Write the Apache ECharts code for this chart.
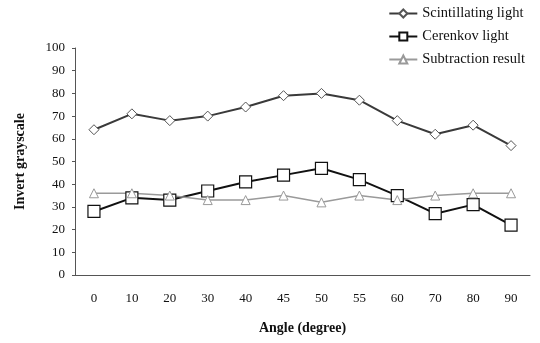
<!DOCTYPE html>
<html>
<head>
<meta charset="utf-8">
<script src="https://cdn.jsdelivr.net/npm/echarts@6/dist/echarts.min.js"></script>
<style>
  html, body { margin: 0; padding: 0; background: #fff; }
  #chart { width: 540px; height: 343px; }
</style>
</head>
<body>
<div id="chart"></div>
<script>
// angles on the x axis
const angles = ['0', '10', '20', '30', '40', '45', '50', '55', '60', '70', '80', '90'];
const scintillating = [64, 71, 68, 70, 74, 79, 80, 77, 68, 62, 66, 57];
const cerenkov = [28, 34, 33, 37, 41, 44, 47, 42, 35, 27, 31, 22];
const subtraction = [36, 36, 35, 33, 33, 35, 32, 35, 33, 35, 36, 36];

const font = '"Liberation Serif", "DejaVu Serif", serif';

let myChart = echarts.init(document.getElementById('chart'));
let option = {
  backgroundColor: '#fff',
  animation: false,
  textStyle: { fontFamily: font },
  legend: {
    orient: 'vertical',
    right: 10,
    top: 1,
    itemWidth: 28,
    itemHeight: 10,
    itemGap: 8,
    textStyle: { fontFamily: font, fontSize: 14.5, color: '#111' },
    data: ['Scintillating light', 'Cerenkov light', 'Subtraction result']
  },
  grid: { left: 75, right: 10, top: 48, bottom: 68 },
  xAxis: {
    type: 'category',
    data: angles,
    name: 'Angle (degree)',
    nameLocation: 'middle',
    nameGap: 46,
    nameTextStyle: { fontFamily: font, fontWeight: 'bold', fontSize: 14, color: '#111' },
    axisLine: { lineStyle: { color: '#555' } },
    axisTick: { show: false },
    axisLabel: { fontFamily: font, fontSize: 13, color: '#111', margin: 17 }
  },
  yAxis: {
    type: 'value',
    min: 0,
    max: 100,
    interval: 10,
    name: 'Invert grayscale',
    nameLocation: 'middle',
    nameGap: 48,
    nameTextStyle: { fontFamily: font, fontWeight: 'bold', fontSize: 14, color: '#111' },
    axisLine: { show: true, lineStyle: { color: '#555' } },
    axisTick: { show: true, length: 3, lineStyle: { color: '#555' } },
    splitLine: { show: false },
    axisLabel: { fontFamily: font, fontSize: 13, color: '#111', margin: 10 }
  },
  series: [
    {
      name: 'Scintillating light',
      type: 'line',
      data: scintillating,
      symbol: 'diamond',
      symbolSize: 10,
      lineStyle: { color: '#3a3a3a', width: 2 },
      itemStyle: { color: '#fff', borderColor: '#555', borderWidth: 1 }
    },
    {
      name: 'Cerenkov light',
      type: 'line',
      data: cerenkov,
      symbol: 'rect',
      symbolSize: 12,
      lineStyle: { color: '#111', width: 2 },
      itemStyle: { color: '#fff', borderColor: '#111', borderWidth: 1.2 }
    },
    {
      name: 'Subtraction result',
      type: 'line',
      data: subtraction,
      symbol: 'triangle',
      symbolSize: 9,
      lineStyle: { color: '#9a9a9a', width: 1.5 },
      itemStyle: { color: '#fff', borderColor: '#999', borderWidth: 1 }
    }
  ]
};
myChart.setOption(option);
</script>
</body>
</html>
